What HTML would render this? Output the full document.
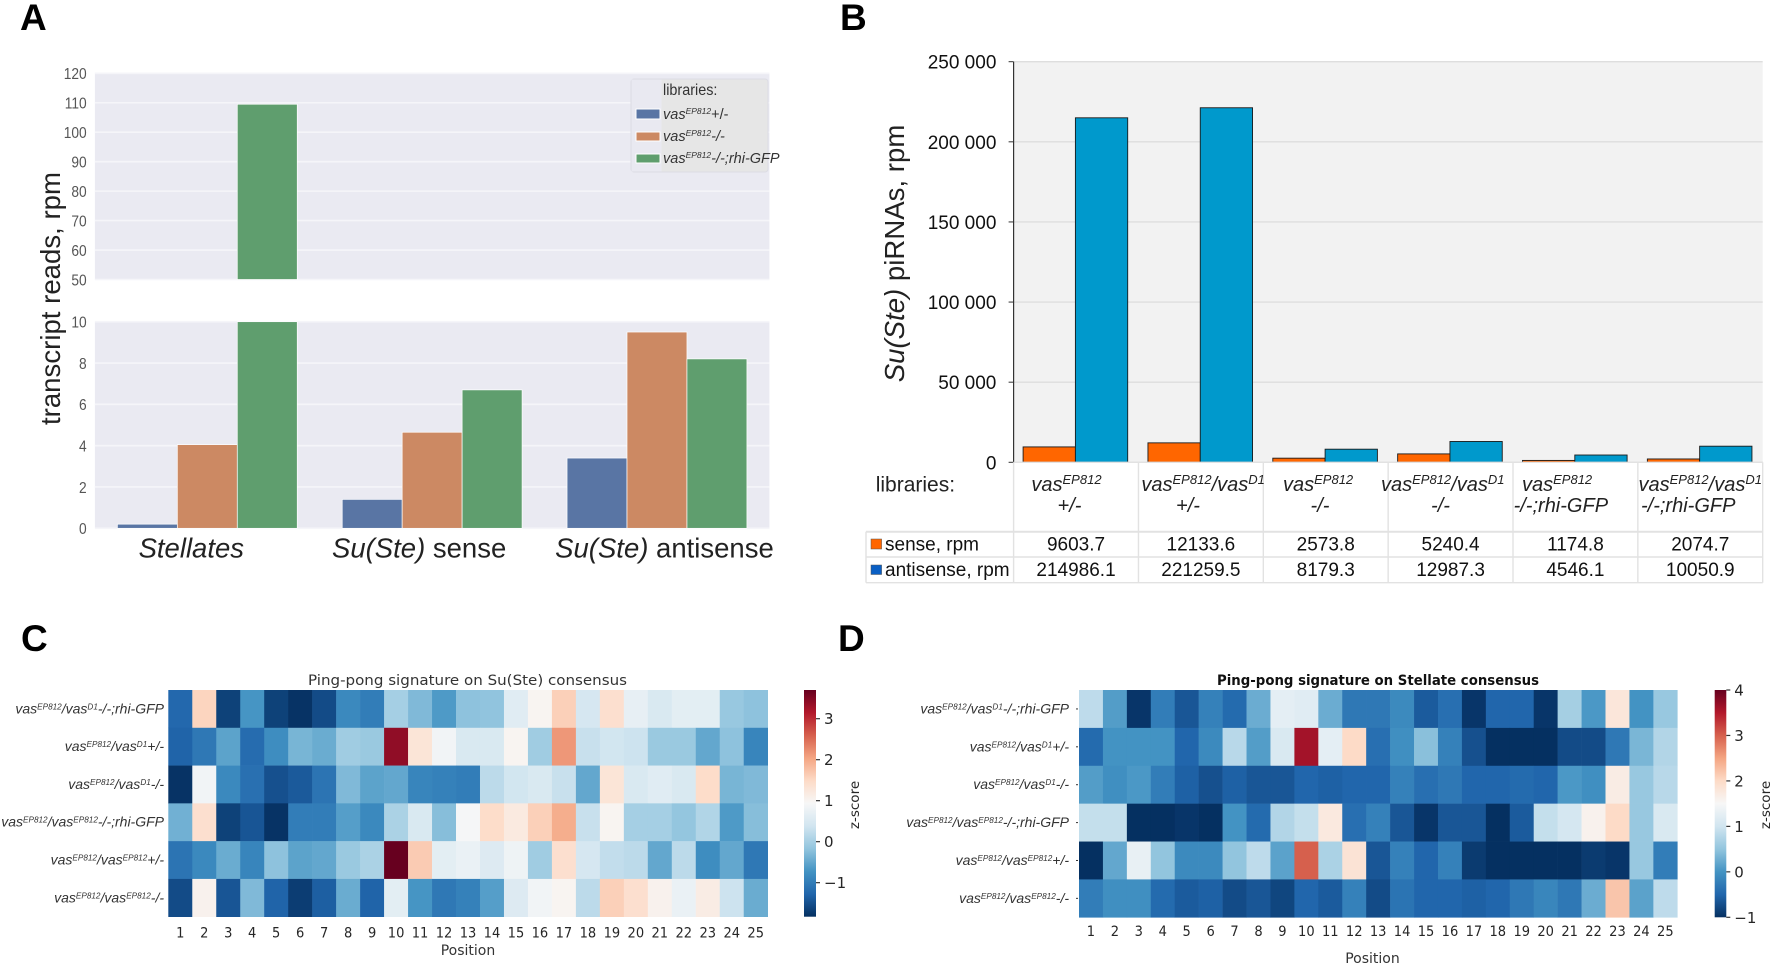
<!DOCTYPE html>
<html lang="en">
<head>
<meta charset="utf-8">
<title>Su(Ste) and Stellate piRNA figure</title>
<style>
  html, body { margin: 0; padding: 0; background: #fff; }
  svg { display: block; font-family: "Liberation Sans", Arial, sans-serif; filter: blur(0.35px); }
  .dj { font-family: "DejaVu Sans", sans-serif; }
  .panel { font-weight: bold; font-size: 37px; fill: #000; }
</style>
</head>
<body>
<svg id="figure" xmlns="http://www.w3.org/2000/svg" width="1772" height="966" viewBox="0 0 1772 966">
  <defs>
    <linearGradient id="rdbu" x1="0" y1="1" x2="0" y2="0">
      <stop offset="0" stop-color="#053061"/><stop offset="0.1" stop-color="#2166ac"/>
      <stop offset="0.2" stop-color="#4393c3"/><stop offset="0.3" stop-color="#92c5de"/>
      <stop offset="0.4" stop-color="#d1e5f0"/><stop offset="0.5" stop-color="#f7f7f7"/>
      <stop offset="0.6" stop-color="#fddbc7"/><stop offset="0.7" stop-color="#f4a582"/>
      <stop offset="0.8" stop-color="#d6604d"/><stop offset="0.9" stop-color="#b2182b"/>
      <stop offset="1" stop-color="#67001f"/>
    </linearGradient>
  </defs>
  <rect width="1772" height="966" fill="#fff"/>

  <text class="panel" x="20" y="30">A</text>
  <text class="panel" x="840" y="30">B</text>
  <text class="panel" x="21" y="651">C</text>
  <text class="panel" x="838" y="651">D</text>

  <g id="panelA"></g>
  <text transform="translate(60,298.5) rotate(-90)" text-anchor="middle" font-size="27.6" fill="#222">transcript reads, rpm</text>

  <g id="legendA">
    <rect x="631" y="79" width="137" height="93" rx="3" fill="#e6e6e6" stroke="#dcdce4"/>
    <rect x="631.5" y="79.5" width="30" height="92" fill="#e9e9f1"/>
    <text x="663" y="95" font-size="16" fill="#333" transform="translate(663,0) scale(.9,1) translate(-663,0)">libraries:</text>
    <rect x="636" y="109" width="24" height="10" fill="#5975a4" stroke="#fff"/>
    <text x="663" y="119" font-size="14.5" font-style="italic" fill="#333">vas<tspan dy="-5" font-size="8.5">EP812</tspan><tspan dy="5" font-size="14.5" font-style="normal">+/-</tspan></text>
    <rect x="636" y="132" width="24" height="9" fill="#cc8963" stroke="#fff"/>
    <text x="663" y="141" font-size="14.5" font-style="italic" fill="#333">vas<tspan dy="-5" font-size="8.5">EP812</tspan><tspan dy="5" font-size="14.5">-/-</tspan></text>
    <rect x="636" y="154" width="24" height="9" fill="#5f9e6e" stroke="#fff"/>
    <text x="663" y="163" font-size="14.5" font-style="italic" fill="#333">vas<tspan dy="-5" font-size="8.5">EP812</tspan><tspan dy="5" font-size="14.5">-/-;rhi-GFP</tspan></text>
  </g>

  <g id="panelB"></g>
  <text transform="translate(904,253.5) rotate(-90)" text-anchor="middle" font-size="27.6" fill="#222"><tspan font-style="italic">Su(Ste)</tspan> piRNAs, rpm</text>

  <g font-size="20" font-style="italic" fill="#222">
    <text x="875.7" y="491.7" font-size="21" font-style="normal">libraries:</text>
    <text x="1031.4" y="491">vas<tspan dy="-7" font-size="13">EP812</tspan></text>
    <text x="1069.5" y="512" text-anchor="middle">+/-</text>
    <text x="1141.4" y="491">vas<tspan dy="-7" font-size="13">EP812</tspan><tspan dy="7">/vas</tspan><tspan dy="-7" font-size="13">D1</tspan></text>
    <text x="1188" y="512" text-anchor="middle">+/-</text>
    <text x="1283" y="491">vas<tspan dy="-7" font-size="13">EP812</tspan></text>
    <text x="1320" y="512" text-anchor="middle">-/-</text>
    <text x="1381" y="491">vas<tspan dy="-7" font-size="13">EP812</tspan><tspan dy="7">/vas</tspan><tspan dy="-7" font-size="13">D1</tspan></text>
    <text x="1440.5" y="512" text-anchor="middle">-/-</text>
    <text x="1522" y="491">vas<tspan dy="-7" font-size="13">EP812</tspan></text>
    <text x="1513.6" y="512">-/-;rhi-GFP</text>
    <text x="1638.5" y="491">vas<tspan dy="-7" font-size="13">EP812</tspan><tspan dy="7">/vas</tspan><tspan dy="-7" font-size="13">D1</tspan></text>
    <text x="1641" y="512">-/-;rhi-GFP</text>
  </g>

  <g id="panelC"></g>
  <g id="panelD"></g>
</svg>

<script>
// Panel A values
const aCategories = ["Stellates", "Su(Ste) sense", "Su(Ste) antisense"];
const aSeriesHet = [0.2, 1.4, 3.4];
const aSeriesHom = [4.05, 4.65, 9.5];
const aSeriesRhi = [109.5, 6.7, 8.2];
const aUpperTicks = [50, 60, 70, 80, 90, 100, 110, 120];
const aLowerTicks = [0, 2, 4, 6, 8, 10];

// Panel B values
const bLibraryCount = 6;
const bSense = [9603.7, 12133.6, 2573.8, 5240.4, 1174.8, 2074.7];
const bAntisense = [214986.1, 221259.5, 8179.3, 12987.3, 4546.1, 10050.9];
const bTicks = [0, 50000, 100000, 150000, 200000, 250000];

// Heatmap labels
const positions = [1,2,3,4,5,6,7,8,9,10,11,12,13,14,15,16,17,18,19,20,21,22,23,24,25];
const rowPartner = ["D1", "D1", "D1", "EP812", "EP812", "EP812"];
const rowGenotype = ["-/-;rhi-GFP", "+/-", "-/-", "-/-;rhi-GFP", "+/-", "-/-"];

// Panel C z-scores
const cRow1 = [-1.25,1.55,-1.65,-0.7,-1.65,-1.8,-1.55,-0.85,-1.0,0.0,-0.3,-0.65,-0.2,-0.18,0.6,1.0,1.6,0.45,1.4,0.7,0.5,0.65,0.65,-0.12,-0.2];
const cRow2 = [-1.3,-1.05,-0.55,-1.2,-0.8,-0.35,-0.45,-0.05,-0.1,3.4,1.3,0.85,0.5,0.5,1.0,-0.05,2.15,0.3,0.4,0.35,-0.1,-0.1,-0.5,-0.2,-0.9];
const cRow3 = [-1.8,0.85,-0.85,-1.15,-1.5,-1.4,-1.1,-0.3,-0.55,-0.5,-0.9,-0.95,-1.0,0.2,0.4,0.5,0.3,-0.5,1.3,0.5,0.6,0.5,1.45,-0.35,-0.3];
const cRow4 = [-0.4,1.4,-1.65,-1.45,-1.8,-1.0,-1.0,-0.6,-0.85,0.05,0.5,-0.25,0.9,1.45,1.2,1.6,1.95,0.3,1.0,0.0,0.0,-0.15,0.1,-0.65,-0.25];
const cRow5 = [-1.1,-0.85,-0.45,-0.9,-0.2,-0.55,-0.5,-0.1,0.05,3.7,1.65,0.65,0.75,0.55,0.8,-0.05,1.4,0.45,0.25,0.2,-0.5,0.2,-0.8,-0.5,-1.05];
const cRow6 = [-1.55,1.05,-1.45,-0.3,-1.3,-1.7,-1.35,-0.45,-1.3,0.65,-0.7,-1.05,-0.95,-0.6,0.55,0.85,1.0,0.2,1.6,1.4,1.05,0.75,1.15,0.35,-0.45];
const cTicks = [-1, 0, 1, 2, 3];

// Panel D z-scores
const dRow1 = [0.85,0.1,-0.95,-0.25,-0.65,-0.2,-0.45,0.25,1.25,1.2,0.25,-0.3,-0.3,-0.1,-0.6,-0.4,-0.95,-0.5,-0.5,-0.95,0.65,0.05,1.8,0,0.55];
const dRow2 = [-0.45,0,0,0,-0.5,-0.1,0.8,0.1,1.1,3.6,1.25,2.0,-0.4,-0.05,0.45,-0.2,-0.7,-1,-1,-1,-0.75,-0.75,-0.3,0.35,0.75];
const dRow3 = [0.1,-0.05,0.05,-0.25,-0.55,-0.7,-0.55,-0.65,-0.65,-0.5,-0.55,-0.5,-0.5,-0.2,-0.4,-0.3,-0.5,-0.5,-0.45,-0.5,0.05,-0.05,1.7,0.55,0.8];
const dRow4 = [0.9,0.9,-1,-1,-0.95,-1,0,-0.45,0.75,0.9,1.75,-0.4,-0.2,-0.65,-0.95,-0.65,-0.65,-1,-0.6,0.9,1.05,1.6,2.0,0.55,1.1];
const dRow5 = [-1,0.2,1.3,0.5,-0.1,-0.1,0.5,0.85,0.15,3.0,0.7,1.85,-0.65,-0.2,-0.5,-0.2,-0.9,-1,-1,-1,-1,-0.9,-0.95,0.55,-0.25];
const dRow6 = [-0.25,-0.05,-0.05,-0.45,-0.6,-0.55,-0.75,-0.65,-0.8,-0.5,-0.6,-0.2,-0.75,-0.35,-0.5,-0.5,-0.55,-0.5,-0.3,-0.15,-0.3,0.25,2.2,0.15,0.85];
const dTicks = [-1, 0, 1, 2, 3, 4];

const NS = "http://www.w3.org/2000/svg";
function mk(tag, attrs, parent) {
  const el = document.createElementNS(NS, tag);
  for (const k in attrs) el.setAttribute(k, attrs[k]);
  parent.appendChild(el);
  return el;
}

/* ---------- Panel A ---------- */
const gA = document.getElementById("panelA");
const aLeft = 94.9, aRight = 769.4;
const aBand = (aRight - aLeft) / aCategories.length;
const aBarW = aBand * 0.8 / 3;
const yAUpper = v => 279.5 - (v - 50) * (279.5 - 73.3) / 70;
const yALower = v => 528.3 - v * (528.3 - 321.7) / 10;
const xA = (c, s) => aLeft + aBand * (c + 0.5) + (s - 1.5) * aBarW;

const upperBg = mk("rect", {x: aLeft, y: yAUpper(120), width: aRight - aLeft, height: yAUpper(50) - yAUpper(120), fill: "#eaeaf2"}, gA);


const lowerBg = mk("rect", {x: aLeft, y: yALower(10), width: aRight - aLeft, height: yALower(0) - yALower(10), fill: "#eaeaf2"}, gA);



function aTick(v, yFn) {
  const line = mk("line", {x1: aLeft, x2: aRight, y1: yFn(v), y2: yFn(v), stroke: "#f5f5f9", "stroke-width": 1.6}, gA);
  
  
  const t = mk("text", {transform: "translate(86.7," + (yFn(v) + 5.8) + ") scale(.86,1)", "text-anchor": "end", "font-size": 16, fill: "#555"}, gA);
  t.textContent = v;
  
  
}
aUpperTicks.forEach(v => aTick(v, yAUpper));
aLowerTicks.forEach(v => aTick(v, yALower));

const aSeries = [aSeriesHet, aSeriesHom, aSeriesRhi];
const aColors = ["#5975a4", "#cc8963", "#5f9e6e"];
aSeries.forEach((vals, s) => {
  vals.forEach((v, c) => {
    const low = mk("rect", {x: xA(c, s), width: aBarW, y: yALower(Math.min(v, 10)), height: yALower(0) - yALower(Math.min(v, 10)), fill: aColors[s], stroke: "#fff", "stroke-width": 0.7}, gA);
    
    
    if (v > 50) {
      const up = mk("rect", {x: xA(c, s), width: aBarW, y: yAUpper(v), height: yAUpper(50) - yAUpper(v), fill: aColors[s], stroke: "#fff", "stroke-width": 0.7}, gA);
      
      
    }
  });
});

aCategories.forEach((name, c) => {
  const t = mk("text", {x: aLeft + aBand * (c + 0.5) - (c === 0 ? 16 : (c === 1 ? 13 : -7.5)), y: 557.5, "text-anchor": "middle", "font-size": 27.5, fill: "#222"}, gA);
  const m = name.match(/^(\S+)(.*)$/);
  const it = mk("tspan", {"font-style": "italic"}, t);
  it.textContent = m[1];
  if (m[2]) { const r = mk("tspan", {}, t); r.textContent = m[2]; }
  
  
});

/* ---------- Panel B ---------- */
const gB = document.getElementById("panelB");
const bAxisX = 1013.6, bRight = 1762.7, bStep = (bRight - bAxisX) / bLibraryCount;
const yB = v => 462.3 - v * (462.3 - 61.7) / 250000;
const xB = i => bAxisX + bStep * i + 9.5;
const bBarW = 52.3;

const bBg = mk("rect", {x: bAxisX, y: yB(250000), width: bRight - bAxisX, height: yB(0) - yB(250000), fill: "#f2f2f2"}, gB);



bTicks.forEach(v => {
  const g = mk("line", {x1: bAxisX, x2: bRight, y1: yB(v), y2: yB(v), stroke: "#dedede", "stroke-width": 1.4}, gB);
  
  
  const tk = mk("line", {x1: bAxisX - 5, x2: bAxisX, y1: yB(v), y2: yB(v), stroke: "#333", "stroke-width": 1}, gB);
  
  
  const t = mk("text", {x: 996.4, y: yB(v) + 7, "text-anchor": "end", "font-size": 19, fill: "#111"}, gB);
  t.textContent = String(v).replace(/\B(?=(\d{3})+$)/g, " ");
  
  
});

bSense.forEach((v, i) => {
  const r = mk("rect", {x: xB(i), width: bBarW, y: yB(v), height: yB(0) - yB(v), fill: "#ff6600", stroke: "#1a1a1a", "stroke-width": 0.9}, gB);
  
  
});
bAntisense.forEach((v, i) => {
  const r = mk("rect", {x: xB(i) + bBarW, width: bBarW, y: yB(v), height: yB(0) - yB(v), fill: "#0099cc", stroke: "#1a1a1a", "stroke-width": 0.9}, gB);
  
  
});

const axisB = mk("line", {x1: bAxisX, x2: bAxisX, y1: yB(250000), y2: yB(0), stroke: "#333", "stroke-width": 1.2}, gB);



const tableLeft = 866, tableRows = [462.3, 531.7, 557, 582.7];
for (let i = 0; i <= bLibraryCount; i++) {
  const x = bAxisX + bStep * i;
  const l = mk("line", {x1: x, x2: x, y1: tableRows[0], y2: tableRows[3], stroke: "#e2e2e2", "stroke-width": 1.4}, gB);
  
  
}
[0, 1, 2, 3].forEach(r => {
  const l = mk("line", {x1: r === 0 ? bAxisX : tableLeft, x2: bRight, y1: tableRows[r], y2: tableRows[r], stroke: "#e2e2e2", "stroke-width": r === 1 ? 2 : 1.4}, gB);
  
  
});
const tl = mk("line", {x1: tableLeft, x2: tableLeft, y1: tableRows[1], y2: tableRows[3], stroke: "#e2e2e2", "stroke-width": 1.4}, gB);



const sw1 = mk("rect", {x: 871, y: 539, width: 10.6, height: 10, fill: "#ff6600", stroke: "#555", "stroke-width": 0.5}, gB);


const sw2 = mk("rect", {x: 871, y: 565, width: 10.6, height: 9.5, fill: "#0a5fc4", stroke: "#555", "stroke-width": 0.5}, gB);


const rn1 = mk("text", {x: 885, y: 550.7, "font-size": 19, fill: "#111"}, gB);
rn1.textContent = "sense, rpm";


const rn2 = mk("text", {x: 885, y: 576, "font-size": 19, fill: "#111"}, gB);
rn2.textContent = "antisense, rpm";



bSense.forEach((v, i) => {
  const t = mk("text", {x: bAxisX + bStep * (i + 0.5), y: 550.7, "text-anchor": "middle", "font-size": 19, fill: "#111"}, gB);
  t.textContent = v.toFixed(1);
  
  
});
bAntisense.forEach((v, i) => {
  const t = mk("text", {x: bAxisX + bStep * (i + 0.5), y: 576, "text-anchor": "middle", "font-size": 19, fill: "#111"}, gB);
  t.textContent = v.toFixed(1);
  
  
});

/* ---------- Heatmaps ---------- */
const cmapStops = [[5,48,97],[33,102,172],[67,147,195],[146,197,222],[209,229,240],[247,247,247],[253,219,199],[244,165,130],[214,96,77],[178,24,43],[103,0,31]];
function cmap(t) {
  t = Math.max(0, Math.min(1, t)) * 10;
  const i = Math.min(9, Math.floor(t)), f = t - i;
  const a = cmapStops[i], b = cmapStops[i + 1];
  return "rgb(" + [0, 1, 2].map(k => Math.round(a[k] + (b[k] - a[k]) * f)).join(",") + ")";
}

function drawHeatmap(g, rows, o) {
  const cellW = (o.right - o.left) / positions.length;
  const cellH = (o.bottom - o.top) / rows.length;
  const xH = i => o.left + cellW * i;
  const yH = r => o.top + cellH * r;
  const zT = z => (z - o.zMin) / (o.zMax - o.zMin);
  const yBar = z => o.bottom - zT(z) * (o.bottom - o.top);

  rows.forEach((vals, r) => {
    vals.forEach((z, i) => {
      const cell = mk("rect", {x: xH(i), y: yH(r), width: cellW + 0.3, height: cellH + 0.3, fill: cmap(zT(z))}, g);
      
      
    });
    const label = mk("text", {x: o.labelX, y: yH(r) + cellH / 2 + 4.5, "text-anchor": "end", "font-size": 14, "font-style": "italic", fill: "#333"}, g);
    label.innerHTML = 'vas<tspan dy="-4" font-size="8.2">EP812</tspan><tspan dy="4">/vas</tspan><tspan dy="-4" font-size="8.2">' + rowPartner[r] + '</tspan><tspan dy="4">' + rowGenotype[r] + '</tspan>';
    
    
    if (o.rowTicks) {
      const dash = mk("line", {x1: o.left - 3, x2: o.left - 1, y1: yH(r) + cellH / 2, y2: yH(r) + cellH / 2, stroke: "#333"}, g);
      
      
    }
  });

  positions.forEach((p, i) => {
    const t = mk("text", {transform: "translate(" + (xH(i) + cellW / 2) + "," + o.tickY + ") scale(.9,1)", "text-anchor": "middle", "font-size": 14.5, fill: "#262626", "class": "dj"}, g);
    t.textContent = p;
    
    
  });

  const title = mk("text", {x: o.titleX, y: 685, "font-size": 14.5, "font-weight": o.bold ? "bold" : "normal", fill: o.bold ? "#111" : "#333", "class": "dj", textLength: o.titleLen, lengthAdjust: "spacingAndGlyphs"}, g);
  title.textContent = o.title;
  
  

  const xTitle = mk("text", {x: o.posX, y: o.posY, "text-anchor": "middle", "font-size": 14, fill: "#333", "class": "dj"}, g);
  xTitle.textContent = "Position";
  
  

  const bar = mk("rect", {x: o.barX, y: o.top, width: o.barW, height: o.bottom - o.top, fill: "url(#rdbu)"}, g);
  
  

  o.ticks.forEach(z => {
    const tk = mk("line", {x1: o.barX + o.barW, x2: o.barX + o.barW + 4, y1: yBar(z), y2: yBar(z), stroke: "#333", "stroke-width": 1.2}, g);
    
    
    const t = mk("text", {x: o.barX + o.barW + 8, y: yBar(z) + 5.5, "font-size": 15, fill: "#262626", "font-weight": o.bold ? "500" : "normal", "class": "dj"}, g);
    t.textContent = z < 0 ? "\u2212" + Math.abs(z) : z;
    
    
  });

  const zl = mk("text", {transform: "translate(" + o.zX + ",805) rotate(-90)", "text-anchor": "middle", "font-size": 13.5, fill: "#262626", "class": "dj"}, g);
  zl.textContent = "z-score";
  
  
}

drawHeatmap(document.getElementById("panelC"), [cRow1, cRow2, cRow3, cRow4, cRow5, cRow6], {
  id: "panel-c", left: 168.3, right: 767.7, top: 690, bottom: 916.7, zMin: -1.83, zMax: 3.7,
  labelX: 164, tickY: 937.5, posX: 468, posY: 955, titleX: 308, titleLen: 319,
  title: "Ping-pong signature on Su(Ste) consensus", barX: 804, barW: 12, ticks: cTicks, zX: 859, rowTicks: false, bold: false
});
drawHeatmap(document.getElementById("panelD"), [dRow1, dRow2, dRow3, dRow4, dRow5, dRow6], {
  id: "panel-d", left: 1079, right: 1677.3, top: 690, bottom: 917.3, zMin: -1, zMax: 4,
  labelX: 1069, tickY: 936, posX: 1372.5, posY: 963, titleX: 1217, titleLen: 322,
  title: "Ping-pong signature on Stellate consensus", barX: 1714.7, barW: 11.6, ticks: dTicks, zX: 1770, rowTicks: true, bold: true
});
</script>
</body>
</html>
